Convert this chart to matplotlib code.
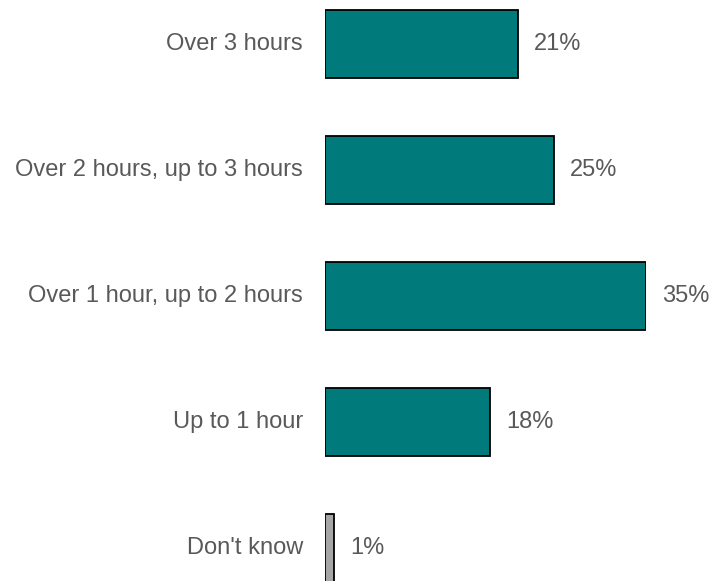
import matplotlib
matplotlib.use("Agg")
import matplotlib.pyplot as plt

categories = ["Over 3 hours", "Over 2 hours, up to 3 hours", "Over 1 hour, up to 2 hours", "Up to 1 hour", "Don't know"]
values = [21, 25, 35, 18, 1]
colors = ["#007A7B", "#007A7B", "#007A7B", "#007A7B", "#A6A6A6"]

plt.rcParams['font.family'] = ['Liberation Sans', 'DejaVu Sans']
W, H = 711, 581
fig = plt.figure(figsize=(W/100, H/100), dpi=100)
ax = fig.add_axes([325/W, 0, 321/W, 1])
ypos = list(range(len(categories)))
ax.barh(ypos, values, height=0.54, color=colors, edgecolor="black", linewidth=1.3)
ax.set_xlim(0, 35)
ax.set_ylim((H-44)/126, -44/126)
ax.axis("off")
txtc = "#595959"
for y, v, c in zip(ypos, values, categories):
    ax.annotate(f"{v}%", (v, y), xytext=(16, 0), textcoords="offset pixels",
                va="center", ha="left", fontsize=17, color=txtc, annotation_clip=False)
    ax.annotate(c, (0, y), xytext=(-22, 0), textcoords="offset pixels",
                va="center", ha="right", fontsize=17, color=txtc, annotation_clip=False)
fig.savefig("out.png", dpi=100)
